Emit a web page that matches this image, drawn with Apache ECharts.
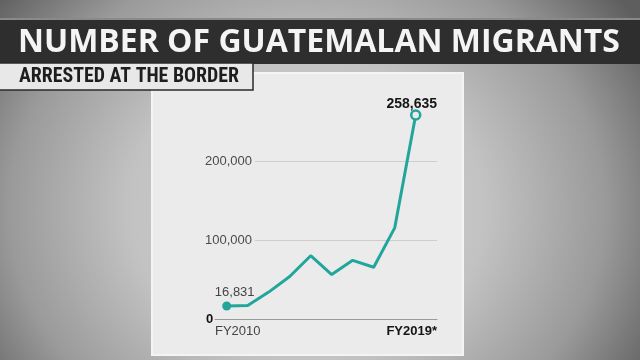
<!DOCTYPE html>
<html>
<head>
<meta charset="utf-8">
<script src="https://cdn.jsdelivr.net/npm/echarts@6/dist/echarts.min.js"></script>
<style>
html,body{margin:0;padding:0;width:640px;height:360px;overflow:hidden;}
#c{width:640px;height:360px;background:radial-gradient(ellipse 62% 95% at 48% 58%, #d2d2d2 0%, #c2c2c2 45%, #9a9a9a 75%, #5e5e5e 100%);}
</style>
</head>
<body>
<div id="c"></div>
<script>
const titleText = 'NUMBER OF GUATEMALAN MIGRANTS';
const subtitleText = 'ARRESTED AT THE BORDER';
const categories = ['FY2010','FY2011','FY2012','FY2013','FY2014','FY2015','FY2016','FY2017','FY2018','FY2019*'];
const values = [16831, 17582, 34453, 54143, 80473, 56691, 74601, 65871, 115722, 258635];
const yTicks = [0, 100000, 200000];

const TEAL = '#22a69c';
const PANEL = '#ebebeb';

function fitFont(text, weight, family, width) {
  const ctx = document.createElement('canvas').getContext('2d');
  ctx.font = weight + ' 100px ' + family;
  return 100 * width / ctx.measureText(text).width;
}
const titleFamily = '"Open Sans", "DejaVu Sans", sans-serif';
const subFamily = '"Liberation Sans Narrow", "Roboto Condensed", "Liberation Sans", sans-serif';
const titleSize = fitFont(titleText, 'bold', titleFamily, 602);
const subSize = fitFont(subtitleText, 'bold', subFamily, 220);

const fmt = v => v.toLocaleString('en-US');
const last = values.length - 1;

const seriesData = values.map((v, i) => {
  const d = { value: [i, v], symbol: 'none' };
  if (i === 0) {
    d.symbol = 'circle';
    d.symbolSize = 9;
    d.itemStyle = { color: TEAL };
    d.label = { show: true, position: 'top', distance: 3, offset: [8, 0], formatter: fmt(v),
      fontSize: 13, color: '#444', fontFamily: 'Liberation Sans, Arial, sans-serif' };
  } else if (i === last) {
    d.symbol = 'circle';
    d.symbolSize = 9;
    d.itemStyle = { color: PANEL, borderColor: TEAL, borderWidth: 2.5 };
    d.label = { show: true, position: 'top', distance: 0, offset: [-4, 2], formatter: fmt(v),
      fontSize: 14, fontWeight: 'bold', color: '#151515', fontFamily: 'Liberation Sans, Arial, sans-serif' };
  }
  return d;
});

const chart = echarts.init(document.getElementById('c'), null, { renderer: 'canvas' });
chart.setOption({
  backgroundColor: 'transparent',
  animation: false,
  graphic: [
    { type: 'rect', z: -10, shape: { x: 0, y: 19, width: 640, height: 45 }, style: { fill: '#2e2e2e' } },
    { type: 'rect', z: -9, shape: { x: 0, y: 18, width: 640, height: 2 }, style: { fill: '#8a8a8a' } },
    { type: 'rect', z: -10, shape: { x: 152, y: 73, width: 311, height: 282 }, style: { fill: PANEL, stroke: '#f4f4f4', lineWidth: 2 } },
    { type: 'rect', z: -8, shape: { x: -2, y: 63, width: 255, height: 27 }, style: { fill: '#e8e8e8', stroke: '#2a2a2a', lineWidth: 1.5 } },
    { type: 'text', z: 10, x: 18, y: 42.5, style: { text: titleText, fill: '#f4f4f4', font: 'bold ' + titleSize.toFixed(2) + 'px ' + titleFamily, textVerticalAlign: 'middle', textAlign: 'left' } },
    { type: 'text', z: 10, x: 19, y: 77, style: { text: subtitleText, fill: '#1e1e1e', font: 'bold ' + subSize.toFixed(2) + 'px ' + subFamily, textVerticalAlign: 'middle', textAlign: 'left' } }
  ],
  grid: { left: 215, right: 203, top: 82.3, bottom: 40.7, containLabel: false },
  xAxis: {
    type: 'value',
    min: -0.557,
    max: 10.014,
    axisLine: { show: true, lineStyle: { color: '#9a9a9a', width: 1.2 } },
    axisTick: { show: false },
    splitLine: { show: false },
    axisLabel: {
      show: true,
      showMinLabel: true,
      showMaxLabel: true,
      alignMinLabel: 'left',
      alignMaxLabel: 'right',
      margin: 6,
      fontSize: 13,
      color: '#444',
      fontFamily: 'Liberation Sans, Arial, sans-serif',
      formatter: v => v < 0 ? categories[0] : (v > 9.5 ? '{b|' + categories[last] + '}' : ''),
      rich: { b: { fontWeight: 'bold', color: '#151515', fontSize: 13, fontFamily: 'Liberation Sans, Arial, sans-serif' } }
    }
  },
  yAxis: {
    type: 'value',
    min: 0,
    max: 300000,
    interval: 100000,
    axisLine: { show: false },
    axisTick: { show: false },
    splitLine: { show: true, lineStyle: { color: ['#9a9a9a', '#cdcdcd', '#cdcdcd', 'rgba(0,0,0,0)'], width: 1 } },
    axisLabel: {
      margin: -40,
      fontFamily: 'Liberation Sans, Arial, sans-serif',
      formatter: v => v === 0 ? '{z|0}' : (yTicks.indexOf(v) >= 0 ? '{g|' + fmt(v) + '}' : ''),
      rich: {
        g: { fontSize: 13, color: '#4a4a4a', backgroundColor: PANEL, padding: [2, 3, 2, 0], fontFamily: 'Liberation Sans, Arial, sans-serif' },
        z: { fontSize: 13, fontWeight: 'bold', color: '#111', width: 49, align: 'left', fontFamily: 'Liberation Sans, Arial, sans-serif' }
      }
    }
  },
  series: [{
    type: 'line',
    data: seriesData,
    lineStyle: { color: TEAL, width: 3 },
    itemStyle: { color: TEAL },
    showAllSymbol: true,
    z: 5
  }]
});
</script>
</body>
</html>
